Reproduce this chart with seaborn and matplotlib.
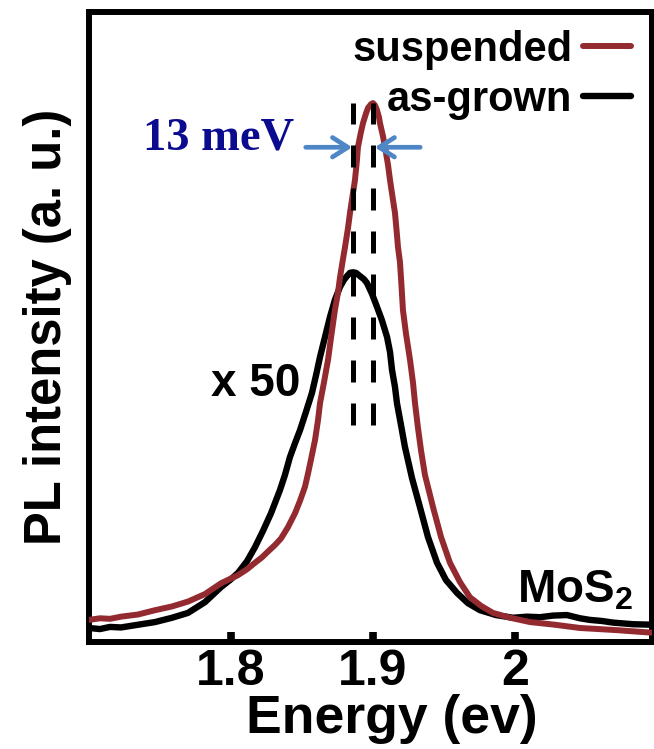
import numpy as np
import pandas as pd
import matplotlib
matplotlib.use("Agg")
import matplotlib.pyplot as plt
import seaborn as sns

# Photon energy (eV) and normalised PL intensity, suspended MoS2
energy_suspended = [1.7000, 1.7077, 1.7148, 1.7225, 1.7345, 1.7465, 1.7585, 1.7697,
                    1.7817, 1.7930, 1.7993, 1.8049, 1.8113, 1.8169, 1.8218, 1.8261,
                    1.8310, 1.8352, 1.8401, 1.8451, 1.8486, 1.8521, 1.8542, 1.8563,
                    1.8592, 1.8613, 1.8627, 1.8655, 1.8683, 1.8704, 1.8732, 1.8754,
                    1.8768, 1.8789, 1.8803, 1.8824, 1.8838, 1.8859, 1.8873, 1.8887,
                    1.8894, 1.8915, 1.8930, 1.8951, 1.8965, 1.8986, 1.9000, 1.9014,
                    1.9028, 1.9042, 1.9049, 1.9070, 1.9085, 1.9106, 1.9120, 1.9141,
                    1.9155, 1.9169, 1.9176, 1.9190, 1.9197, 1.9204, 1.9211, 1.9232,
                    1.9261, 1.9282, 1.9296, 1.9317, 1.9338, 1.9366, 1.9423, 1.9479,
                    1.9542, 1.9613, 1.9683, 1.9761, 1.9845, 1.9965, 2.0106, 2.0282,
                    2.0458, 2.0718, 2.0979]
pl_suspended = [0.041, 0.044, 0.043, 0.047, 0.051, 0.059, 0.066, 0.075,
                0.089, 0.109, 0.117, 0.124, 0.135, 0.147, 0.157, 0.168,
                0.180, 0.192, 0.213, 0.239, 0.262, 0.288, 0.312, 0.338,
                0.375, 0.412, 0.443, 0.482, 0.523, 0.564, 0.616, 0.649,
                0.677, 0.711, 0.733, 0.768, 0.796, 0.833, 0.857, 0.894,
                0.918, 0.946, 0.963, 0.981, 0.991, 0.998, 1.000, 0.996,
                0.987, 0.974, 0.963, 0.939, 0.918, 0.885, 0.857, 0.820,
                0.796, 0.755, 0.733, 0.705, 0.677, 0.647, 0.616, 0.573,
                0.523, 0.481, 0.443, 0.397, 0.356, 0.310, 0.250, 0.195,
                0.147, 0.111, 0.083, 0.067, 0.054, 0.045, 0.037, 0.032,
                0.026, 0.022, 0.017]

# Photon energy (eV) and normalised PL intensity, as-grown MoS2 (x 50)
energy_asgrown = [1.7000, 1.7077, 1.7148, 1.7225, 1.7345, 1.7465, 1.7585, 1.7697,
                  1.7817, 1.7930, 1.7993, 1.8049, 1.8113, 1.8169, 1.8225, 1.8282,
                  1.8345, 1.8380, 1.8415, 1.8451, 1.8486, 1.8528, 1.8570, 1.8599,
                  1.8627, 1.8662, 1.8697, 1.8732, 1.8768, 1.8796, 1.8817, 1.8838,
                  1.8859, 1.8880, 1.8908, 1.8937, 1.8958, 1.8993, 1.9028, 1.9063,
                  1.9099, 1.9120, 1.9134, 1.9155, 1.9169, 1.9197, 1.9225, 1.9275,
                  1.9331, 1.9387, 1.9451, 1.9514, 1.9592, 1.9669, 1.9754, 1.9866,
                  1.9986, 2.0085, 2.0176, 2.0268, 2.0366, 2.0458, 2.0528, 2.0613,
                  2.0690, 2.0831, 2.0979]
pl_asgrown = [0.026, 0.024, 0.028, 0.027, 0.032, 0.037, 0.045, 0.054,
              0.074, 0.102, 0.115, 0.128, 0.150, 0.176, 0.206, 0.239,
              0.282, 0.310, 0.343, 0.369, 0.393, 0.427, 0.462, 0.495,
              0.529, 0.566, 0.603, 0.635, 0.659, 0.672, 0.679, 0.685,
              0.686, 0.685, 0.679, 0.673, 0.666, 0.646, 0.622, 0.597,
              0.566, 0.538, 0.505, 0.473, 0.443, 0.403, 0.362, 0.304,
              0.250, 0.195, 0.147, 0.115, 0.091, 0.072, 0.059, 0.050,
              0.045, 0.047, 0.046, 0.049, 0.050, 0.044, 0.041, 0.039,
              0.036, 0.033, 0.032]

# Peak positions marked by the dashed guides
peak_energies = [1.886, 1.900]
guide_top, guide_bottom = 1.000, 0.403
arrow_level = 0.918

xticks = [1.8, 1.9, 2.0]
xtick_labels = ["1.8", "1.9", "2"]

RED = "#932a30"
ARROW = "#4f87c6"
NAVY = "#0b0b8f"

sns.set_style("white")
plt.rcParams["font.family"] = ["Liberation Sans", "DejaVu Sans"]
plt.rcParams["font.weight"] = "bold"
plt.rcParams["text.color"] = "black"
plt.rcParams["axes.labelcolor"] = "black"
plt.rcParams["xtick.color"] = "black"
plt.rcParams["mathtext.fontset"] = "custom"
plt.rcParams["mathtext.rm"] = "Liberation Sans:bold"
plt.rcParams["mathtext.it"] = "Liberation Sans:bold"
plt.rcParams["mathtext.bf"] = "Liberation Sans:bold"

fig = plt.figure(figsize=(6.54, 7.49), dpi=100)
ax = fig.add_axes([89 / 654, 107 / 749, 563 / 654, 630 / 749])

df_a = pd.DataFrame({"Energy": energy_asgrown, "PL": pl_asgrown})
df_s = pd.DataFrame({"Energy": energy_suspended, "PL": pl_suspended})

sns.lineplot(data=df_a, x="Energy", y="PL", ax=ax, color="black", lw=4.6,
             label="as-grown", sort=False, zorder=2)
sns.lineplot(data=df_s, x="Energy", y="PL", ax=ax, color=RED, lw=4.3,
             label="suspended", sort=False, zorder=3)

ax.vlines(peak_energies, guide_bottom, guide_top, colors="black", lw=3.6,
          linestyles=[(0, (4.4, 4.2))], zorder=4)

# FWHM arrows pointing at the two guides
head = "->,head_length=1.1,head_width=0.7"
ax.annotate("", xy=(peak_energies[0] + 0.0013, arrow_level),
            xytext=(1.8507, arrow_level),
            arrowprops=dict(arrowstyle=head, color=ARROW, lw=3.4), zorder=5)
ax.annotate("", xy=(peak_energies[1] - 0.0007, arrow_level),
            xytext=(1.9352, arrow_level),
            arrowprops=dict(arrowstyle=head, color=ARROW, lw=3.4), zorder=5)
ax.text(1.7915, 0.935, "13 meV", color=NAVY, fontsize=33.5, fontweight="bold",
        family=["Liberation Serif", "DejaVu Serif"], ha="center", va="center")

ax.text(1.8176, 0.479, "x 50", fontsize=33, fontweight="bold",
        ha="center", va="center")
ax.text(2.0831, 0.074, r"MoS$_2$", fontsize=33, fontweight="bold",
        ha="right", va="baseline")

ax.set_xlim(1.70, 2.0965)
ax.set_ylim(0, 1.169)
ax.set_xticks(xticks)
ax.set_xticklabels(xtick_labels)
ax.set_yticks([])
ax.tick_params(axis="x", direction="in", length=7, width=5.5, pad=5,
               labelsize=36, bottom=True, colors="black")
for s in ax.spines.values():
    s.set_visible(True)
    s.set_linewidth(4.3)
    s.set_color("black")

ax.set_xlabel("Energy (ev)", fontsize=38.5, fontweight="bold")
ax.set_ylabel("PL intensity (a. u.)", fontsize=36.5, fontweight="bold")
ax.xaxis.set_label_coords(0.538, -0.083)
ax.yaxis.set_label_coords(-0.03, 0.5)

handles, labels = ax.get_legend_handles_labels()
order = [labels.index("suspended"), labels.index("as-grown")]
leg = ax.legend([handles[i] for i in order], [labels[i] for i in order],
                loc="upper right", bbox_to_anchor=(0.962, 0.972),
                markerfirst=False, frameon=False, fontsize=30,
                handlelength=1.15, handletextpad=0.25, labelspacing=0.24,
                borderaxespad=0.0, borderpad=0.0)
for t in leg.get_texts():
    t.set_fontweight("bold")

fig.savefig("out.png", dpi=100)
